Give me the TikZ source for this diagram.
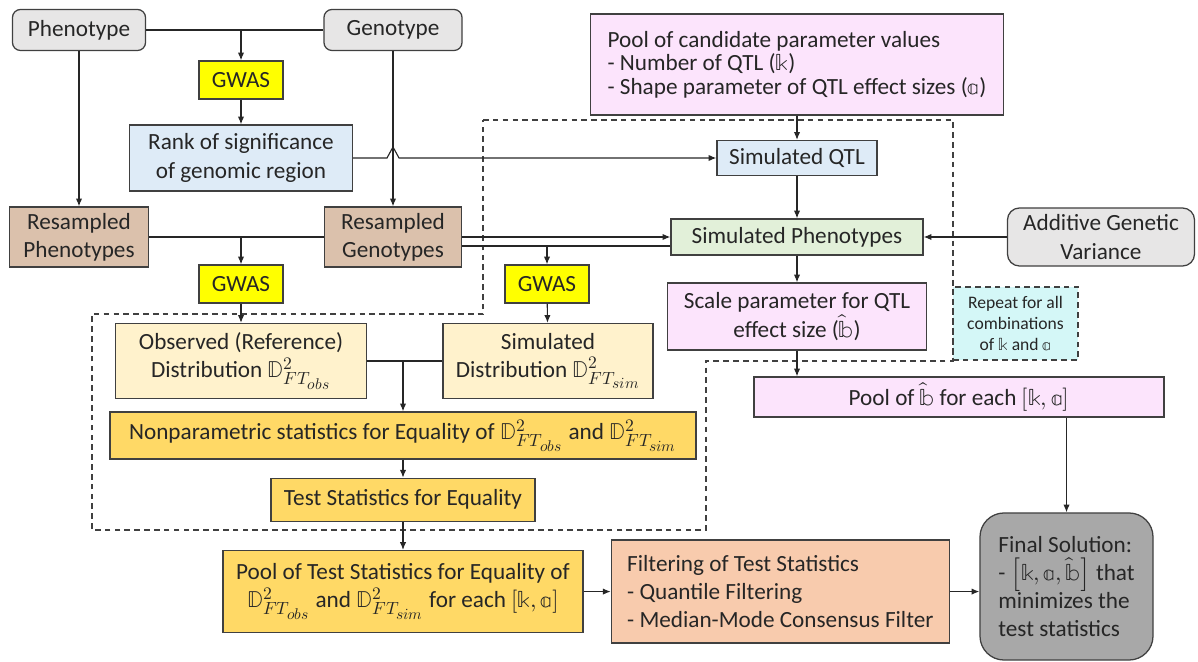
\documentclass[tikz,border=0pt]{standalone}
\usepackage{fontspec}
\usepackage{unicode-math}
\setmainfont{Carlito}
\setmathfont{Latin Modern Math}
\DeclareMathSizes{16.5}{16.5}{12.5}{11}
\DeclareMathSizes{12.5}{12.5}{9.5}{8}
\usepackage{tikz}
\usetikzlibrary{arrows.meta, positioning, calc}

\definecolor{boxgray}{RGB}{231,230,230}
\definecolor{gwasyellow}{RGB}{255,255,0}
\definecolor{lightblue}{RGB}{222,235,247}
\definecolor{tan}{RGB}{219,193,172}
\definecolor{cream}{RGB}{255,242,204}
\definecolor{gold}{RGB}{255,217,102}
\definecolor{salmon}{RGB}{248,203,173}
\definecolor{darkgray}{RGB}{168,168,168}
\definecolor{pink}{RGB}{252,228,252}
\definecolor{lightgreen}{RGB}{226,240,217}
\definecolor{lightcyan}{RGB}{212,247,247}

\begin{document}
\begin{tikzpicture}[
        x=0.025cm, y=-0.025cm,
        every node/.style={font=\fontsize{16.5}{20}\selectfont, text=black!85, inner sep=2pt},
        box/.style={draw=black!75, line width=0.9pt, align=center},
        graybox/.style={box, rounded corners=0.2cm, fill=boxgray},
        gwasbox/.style={box, fill=gwasyellow, minimum width=2.1cm, minimum height=0.95cm},
        bluebox/.style={box, fill=lightblue},
        tanbox/.style={box, fill=tan},
        creambox/.style={box, fill=cream},
        goldbox/.style={box, fill=gold},
        pinkbox/.style={box, fill=pink},
        greenbox/.style={box, fill=lightgreen},
        conn/.style={line width=0.8pt, draw=black!85},
        arr/.style={conn, -{Latex[length=5.5pt,width=4.5pt]}},
        loopline/.style={line width=0.9pt, draw=black!75, dash pattern=on 4pt off 3pt}
    ]
        \useasboundingbox (0,0) rectangle (1198,662);

        % inputs and first GWAS
        \node[graybox, minimum width=3.325cm, minimum height=1.025cm] (pheno) at (79,30) {Phenotype};
        \node[graybox, minimum width=3.45cm, minimum height=1.025cm] (geno) at (393,30) {Genotype};
        \node[gwasbox] (gwasA) at (241,80) {GWAS};
        \node[bluebox, minimum width=5.575cm, minimum height=1.65cm] (rank) at (241,158) {Rank of significance\\of genomic region};

        % resampling
        \node[tanbox, minimum width=3.475cm, minimum height=1.5cm] (rpheno) at (79,237) {Resampled\\Phenotypes};
        \node[tanbox, minimum width=3.425cm, minimum height=1.5cm] (rgeno) at (393,237) {Resampled\\Genotypes};
        \node[gwasbox] (gwasB) at (241,284) {GWAS};
        \node[gwasbox] (gwasC) at (547,284) {GWAS};
        \node[creambox, minimum width=6.275cm, minimum height=1.875cm] (obs) at (241,361) {Observed (Reference)\\Distribution $\mathbb{D}^2_{FT_{obs}}$};
        \node[creambox, minimum width=5.25cm, minimum height=1.875cm] (simdist) at (548,361) {Simulated\\Distribution $\mathbb{D}^2_{FT_{sim}}$};

        % test statistics
        \node[goldbox, minimum width=14.65cm, minimum height=1.175cm] (nonpar) at (403,435.5) {Nonparametric statistics for Equality of $\mathbb{D}^2_{FT_{obs}}$ and $\mathbb{D}^2_{FT_{sim}}$};
        \node[goldbox, minimum width=6.6cm, minimum height=1.075cm, below=0.45cm of nonpar] (teststat) {Test Statistics for Equality};
        \node[goldbox, minimum width=9cm, minimum height=2.05cm, below=0.7cm of teststat] (pooltest) {Pool of Test Statistics for Equality of\\$\mathbb{D}^2_{FT_{obs}}$ and $\mathbb{D}^2_{FT_{sim}}$ for each $[\mathbb{k},\mathbb{a}]$};
        \node[box, fill=salmon, align=left, minimum width=8.45cm, minimum height=2.575cm, right=0.675cm of pooltest] (filt) {Filtering of Test Statistics\\- Quantile Filtering\\- Median-Mode Consensus Filter};
        \node[box, fill=darkgray, rounded corners=0.6cm, align=left, minimum width=4.325cm, minimum height=3.675cm] (final) at (1066.5,586.5) {Final Solution:\\- $\left[\mathbb{k},\mathbb{a},\widehat{\mathbb{b}}\right]$ that\\minimizes the\\test statistics};

        % simulation side
        \node[pinkbox, align=left, font=\fontsize{16.5}{16.8}\selectfont, minimum width=10.325cm, minimum height=2.525cm] (pool) at (797,64.5) {Pool of candidate parameter values\\- Number of QTL ($\mathbb{k}$)\\- Shape parameter of QTL effect sizes ($\mathbb{a}$)};
        \node[bluebox, minimum width=4cm, minimum height=0.875cm] (simqtl) at (797,158) {Simulated QTL};
        \node[greenbox, minimum width=6.3cm, minimum height=0.9cm] (simphen) at (797,237) {Simulated Phenotypes};
        \node[graybox, rounded corners=0.3cm, minimum width=4.675cm, minimum height=1.45cm] (addvar) at (1101,237) {Additive Genetic\\Variance};
        \node[pinkbox, minimum width=6.475cm, minimum height=1.675cm] (scale) at (797,316.5) {Scale parameter for QTL\\effect size ($\widehat{\mathbb{b}}$)};
        \node[box, fill=lightcyan, dash pattern=on 4pt off 3pt, font=\fontsize{12.5}{15}\selectfont, minimum width=3.125cm, minimum height=1.825cm] (rep) at (1015.5,323.5) {Repeat for all\\combinations\\of $\mathbb{k}$ and $\mathbb{a}$};
        \node[pinkbox, minimum width=10.25cm, minimum height=1cm] (poolb) at (959,397) {Pool of $\widehat{\mathbb{b}}$ for each $[\mathbb{k},\mathbb{a}]$};

        % repeated block
        \draw[loopline] (483,120) -- (953,120) -- (953,361) -- (706,361) -- (706,530) -- (92,530) -- (92,314) -- (483,314) -- cycle;

        \draw[conn] (pheno) -- (geno);
        \draw[arr] (pheno -| gwasA) -- (gwasA);
        \draw[arr] (gwasA) -- (rank);
        \draw[arr] (pheno) -- (rpheno);
        \draw[arr] (geno) -- (rgeno);
        \draw[arr] (rank.east) -- ($(rank.east -| geno)+(-6,0)$) -- ($(rank.east -| geno)+(0,-11)$) -- ($(rank.east -| geno)+(6,0)$) -- (simqtl.west);
        \draw[arr] (pool) -- (simqtl);
        \draw[arr] (simqtl) -- (simphen);
        \draw[arr] (addvar) -- (simphen);

        \draw[conn] (rpheno) -- (rgeno);
        \draw[arr] (rpheno -| gwasB) -- (gwasB);
        \draw[arr] (rgeno) -- (simphen);
        \coordinate (lowL) at ([yshift=-0.225cm]rgeno.east);
        \coordinate (lowR) at ([yshift=-0.225cm]simphen.west);
        \draw[conn] (lowL) -- (lowR);
        \draw[arr] (lowL -| gwasC) -- (gwasC);
        \draw[arr] (gwasB) -- (obs);
        \draw[arr] (gwasC) -- (simdist);

        \draw[conn] (obs) -- (simdist);
        \draw[arr] (obs -| nonpar) -- (nonpar);
        \draw[arr] (nonpar) -- (teststat);
        \draw[arr] (teststat) -- (pooltest);
        \draw[arr] (pooltest) -- (filt);
        \draw[arr] (filt) -- (filt -| final.west);

        \draw[arr] (simphen) -- (scale);
        \draw[arr] (scale) -- (scale |- poolb.north);
        \draw[arr] (poolb.south -| final) -- (final);
    \end{tikzpicture}
\end{document}
